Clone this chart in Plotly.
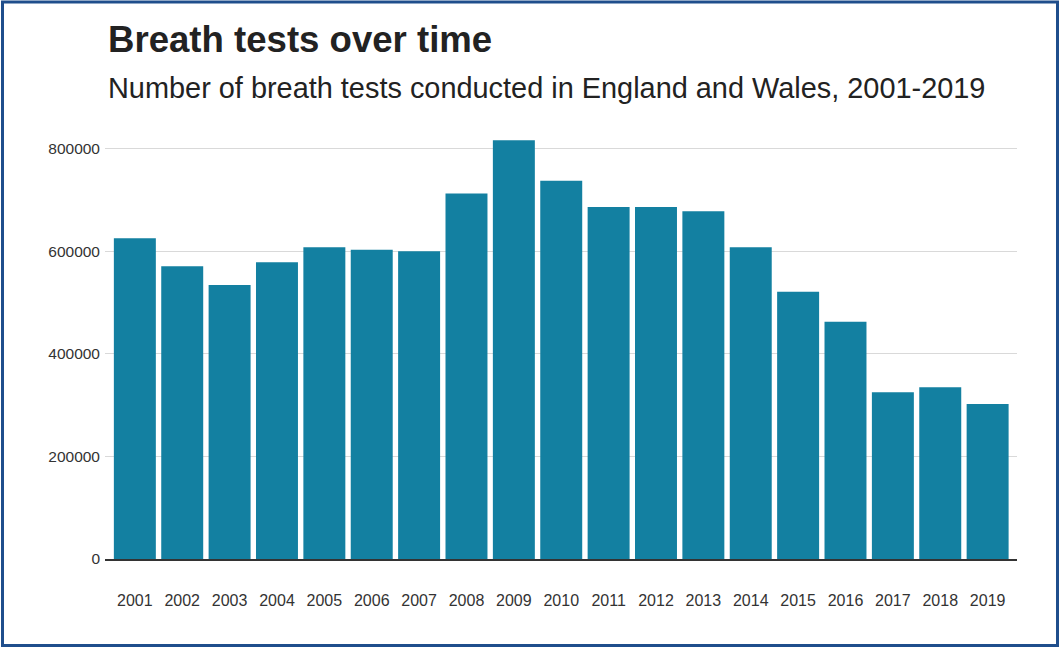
import plotly.graph_objects as go

# Breath tests conducted in England and Wales, by year
years = [str(y) for y in range(2001, 2020)]
tests = [625000, 570400, 534100, 578200, 607400, 602900, 599600, 712100, 816000,
         737400, 686200, 686200, 677600, 607400, 521100, 462600, 324800, 334500, 302100]

y_ticks = [0, 200000, 400000, 600000, 800000]
y_tick_labels = ["0", "200000", "400000", "600000", "800000"]

W, H = 1061, 648
L, R, T, B = 105, 44, 128, 89
PW, PH = W - L - R, H - T - B


def px_x(px):
    return (px - L) / PW


def px_y(py):
    return (H - B - py) / PH


FONT = "Liberation Sans, Arial, Helvetica, sans-serif"
BAR = "#1380A1"

fig = go.Figure(
    go.Bar(
        x=years,
        y=tests,
        marker=dict(color=BAR, line=dict(width=0)),
        hoverinfo="x+y",
    )
)

fig.update_layout(
    width=W,
    height=H,
    margin=dict(l=L, r=R, t=T, b=B, pad=0),
    paper_bgcolor="white",
    plot_bgcolor="white",
    bargap=0.114,
    showlegend=False,
    font=dict(family=FONT, color="#222222"),
    xaxis=dict(
        type="category",
        range=[-0.63, 18.62],
        showgrid=False,
        zeroline=False,
        showline=True,
        linecolor="#333333",
        linewidth=2,
        ticks="",
        ticklabelstandoff=26,
        tickfont=dict(family=FONT, size=16, color="#333333"),
    ),
    yaxis=dict(
        range=[0, 840000],
        tickvals=y_ticks,
        ticktext=y_tick_labels,
        showgrid=True,
        gridcolor="#d9d9d9",
        gridwidth=1,
        zeroline=False,
        showline=False,
        ticks="",
        ticklabelstandoff=4,
        tickfont=dict(family=FONT, size=15.5, color="#333333"),
    ),
    annotations=[
        dict(
            text="<b>Breath tests over time</b>",
            xref="paper", yref="paper",
            x=px_x(106), y=px_y(40),
            xanchor="left", yanchor="middle",
            showarrow=False,
            font=dict(family=FONT, size=36.6, color="#222222"),
        ),
        dict(
            text="Number of breath tests conducted in England and Wales, 2001-2019",
            xref="paper", yref="paper",
            x=px_x(106), y=px_y(88),
            xanchor="left", yanchor="middle",
            showarrow=False,
            font=dict(family=FONT, size=28.9, color="#222222"),
        ),
    ],
    shapes=[
        # frame around the whole graphic
        dict(
            type="rect",
            xref="paper", yref="paper",
            x0=px_x(2.5), x1=px_x(1057.5),
            y0=px_y(2), y1=px_y(645.5),
            line=dict(color="#1F4E8C", width=3),
            fillcolor="rgba(0,0,0,0)",
            layer="above",
        )
    ],
)

fig.write_html("out.html")
